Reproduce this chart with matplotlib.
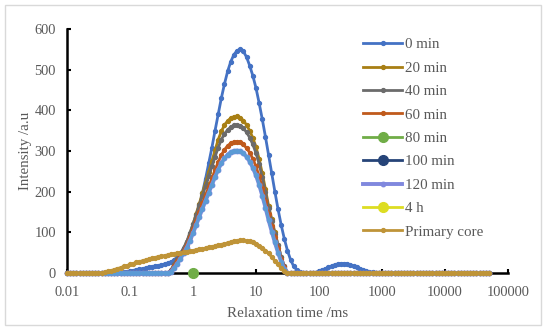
import matplotlib
matplotlib.use("Agg")
import matplotlib.pyplot as plt
from matplotlib.patches import Rectangle

plt.rcParams['font.family'] = ['Liberation Serif', 'DejaVu Serif']

# relaxation times (ms), 20 points per decade, 0.01 .. 50000
t2 = [0.01, 0.01122, 0.01259, 0.01413, 0.01585, 0.01778, 0.01995, 0.02239, 0.02512, 0.02818,
      0.03162, 0.03548, 0.03981, 0.04467, 0.05012, 0.05623, 0.0631, 0.07079, 0.07943, 0.08913,
      0.1, 0.1122, 0.1259, 0.1413, 0.1585, 0.1778, 0.1995, 0.2239, 0.2512, 0.2818,
      0.3162, 0.3548, 0.3981, 0.4467, 0.5012, 0.5623, 0.631, 0.7079, 0.7943, 0.8913,
      1.0, 1.122, 1.259, 1.413, 1.585, 1.778, 1.995, 2.239, 2.512, 2.818,
      3.162, 3.548, 3.981, 4.467, 5.012, 5.623, 6.31, 7.079, 7.943, 8.913,
      10.0, 11.22, 12.59, 14.13, 15.85, 17.78, 19.95, 22.39, 25.12, 28.18,
      31.62, 35.48, 39.81, 44.67, 50.12, 56.23, 63.1, 70.79, 79.43, 89.13,
      100, 112.2, 125.9, 141.3, 158.5, 177.8, 199.5, 223.9, 251.2, 281.8,
      316.2, 354.8, 398.1, 446.7, 501.2, 562.3, 631, 707.9, 794.3, 891.3,
      1000, 1122, 1259, 1413, 1585, 1778, 1995, 2239, 2512, 2818,
      3162, 3548, 3981, 4467, 5012, 5623, 6310, 7079, 7943, 8913,
      10000, 11220, 12589, 14125, 15849, 17783, 19953, 22387, 25119, 28184,
      31623, 35481, 39811, 44668, 50119]

min0 = [0, 0, 0, 0, 0, 0, 0, 0, 0, 0,
        0, 0, 0, 0, 0, 0, 0, 0, 2, 3,
        5, 6, 8, 9, 11, 12, 14, 15, 17, 18,
        20, 22, 24, 27, 32, 39, 48, 60, 75, 93,
        113, 137, 165, 197, 232, 270, 308, 350, 390, 430,
        465, 496, 520, 537, 547, 550, 545, 531, 510, 485,
        455, 418, 378, 335, 290, 245, 200, 157, 118, 84,
        55, 32, 16, 7, 3, 1, 0, 0, 0, 1,
        4, 7, 10, 14, 17, 20, 22, 23, 23, 22,
        20, 17, 14, 10, 7, 5, 3, 2, 1, 0,
        0, 0, 0, 0, 0, 0, 0, 0, 0, 0,
        0, 0, 0, 0, 0, 0, 0, 0, 0, 0,
        0, 0, 0, 0, 0, 0, 0, 0, 0, 0,
        0, 0, 0, 0, 0]

min20 = [0, 0, 0, 0, 0, 0, 0, 0, 0, 0,
         0, 0, 0, 0, 0, 0, 0, 0, 0, 0,
         0, 0, 0, 0, 0, 0, 0, 0, 0, 0,
         0, 0, 0, 6, 20, 32, 45, 59, 75, 96,
         120, 145, 170, 196, 222, 248, 275, 302, 328, 348,
         364, 374, 381, 384, 385, 382, 375, 364, 350, 332,
         310, 280, 245, 206, 165, 132, 100, 70, 40, 16,
         0, 0, 0, 0, 0, 0, 0, 0, 0, 0,
         0, 0, 0, 0, 0, 0, 0, 0, 0, 0,
         0, 0, 0, 0, 0, 0, 0, 0, 0, 0,
         0, 0, 0, 0, 0, 0, 0, 0, 0, 0,
         0, 0, 0, 0, 0, 0, 0, 0, 0, 0,
         0, 0, 0, 0, 0, 0, 0, 0, 0, 0,
         0, 0, 0, 0, 0]

min40 = [0, 0, 0, 0, 0, 0, 0, 0, 0, 0,
         0, 0, 0, 0, 0, 0, 0, 0, 0, 0,
         0, 0, 0, 0, 0, 0, 0, 0, 0, 0,
         0, 0, 0, 7, 22, 34, 47, 61, 77, 98,
         120, 143, 167, 190, 214, 238, 262, 286, 308, 328,
         342, 352, 359, 363, 364, 361, 356, 346, 333, 316,
         295, 268, 235, 198, 160, 128, 97, 68, 40, 16,
         0, 0, 0, 0, 0, 0, 0, 0, 0, 0,
         0, 0, 0, 0, 0, 0, 0, 0, 0, 0,
         0, 0, 0, 0, 0, 0, 0, 0, 0, 0,
         0, 0, 0, 0, 0, 0, 0, 0, 0, 0,
         0, 0, 0, 0, 0, 0, 0, 0, 0, 0,
         0, 0, 0, 0, 0, 0, 0, 0, 0, 0,
         0, 0, 0, 0, 0]

min60 = [0, 0, 0, 0, 0, 0, 0, 0, 0, 0,
         0, 0, 0, 0, 0, 0, 0, 0, 0, 0,
         0, 0, 0, 0, 0, 0, 0, 0, 0, 0,
         0, 0, 0, 5, 18, 30, 42, 55, 70, 88,
         108, 129, 150, 171, 192, 212, 233, 253, 273, 290,
         303, 313, 319, 322, 323, 321, 316, 307, 296, 281,
         262, 238, 210, 178, 145, 116, 88, 61, 35, 14,
         0, 0, 0, 0, 0, 0, 0, 0, 0, 0,
         0, 0, 0, 0, 0, 0, 0, 0, 0, 0,
         0, 0, 0, 0, 0, 0, 0, 0, 0, 0,
         0, 0, 0, 0, 0, 0, 0, 0, 0, 0,
         0, 0, 0, 0, 0, 0, 0, 0, 0, 0,
         0, 0, 0, 0, 0, 0, 0, 0, 0, 0,
         0, 0, 0, 0, 0]

min120 = [0, 0, 0, 0, 0, 0, 0, 0, 0, 0,
          0, 0, 0, 0, 0, 0, 0, 0, 0, 0,
          0, 0, 0, 0, 0, 0, 0, 0, 0, 0,
          0, 0, 0, 3, 12, 23, 35, 48, 62, 79,
          98, 118, 138, 158, 178, 197, 217, 236, 254, 270,
          282, 291, 297, 300, 301, 299, 294, 286, 274, 259,
          240, 217, 190, 161, 130, 102, 75, 50, 28, 10,
          0, 0, 0, 0, 0, 0, 0, 0, 0, 0,
          0, 0, 0, 0, 0, 0, 0, 0, 0, 0,
          0, 0, 0, 0, 0, 0, 0, 0, 0, 0,
          0, 0, 0, 0, 0, 0, 0, 0, 0, 0,
          0, 0, 0, 0, 0, 0, 0, 0, 0, 0,
          0, 0, 0, 0, 0, 0, 0, 0, 0, 0,
          0, 0, 0, 0, 0]

core = [0, 0, 0, 0, 0, 0, 0, 0, 0, 0,
        0, 1, 2, 4, 6, 8, 11, 13, 16, 18,
        21, 23, 26, 28, 30, 32, 34, 36, 38, 40,
        41, 43, 44, 46, 47, 49, 50, 51, 52, 54,
        55, 57, 58, 60, 61, 63, 64, 66, 68, 70,
        72, 74, 76, 78, 79, 80, 80, 79, 78, 75,
        72, 67, 62, 55, 48, 39, 30, 21, 12, 5,
        0, 0, 0, 0, 0, 0, 0, 0, 0, 0,
        0, 0, 0, 0, 0, 0, 0, 0, 0, 0,
        0, 0, 0, 0, 0, 0, 0, 0, 0, 0,
        0, 0, 0, 0, 0, 0, 0, 0, 0, 0,
        0, 0, 0, 0, 0, 0, 0, 0, 0, 0,
        0, 0, 0, 0, 0, 0, 0, 0, 0, 0,
        0, 0, 0, 0, 0]

# 80 min only shows as one point, 100 min and 4 h are hidden in the figure
t2_80 = [1]
min80 = [0]

xticks = [0.01, 0.1, 1, 10, 100, 1000, 10000, 100000]
xlabels = ['0.01', '0.1', '1', '10', '100', '1000', '10000', '100000']
yticks = [0, 100, 200, 300, 400, 500, 600]

grey = '#595959'

fig = plt.figure(figsize=(5.5, 3.33), dpi=100)
ax = fig.add_axes([0.1218, 0.1802, 0.8018, 0.7327])

kw = dict(lw=2, marker='o', ms=2.8, clip_on=False)
ax.plot(t2, min0, color='#4472C4', label='0 min', **kw)
ax.plot(t2, min20, color='#A87F14', label='20 min', **kw)
ax.plot(t2, min40, color='#6B6B6B', label='40 min', **kw)
ax.plot(t2, min60, color='#C05A1C', label='60 min', **kw)
ax.plot(t2_80, min80, color='#70AD47', lw=2, marker='o', ms=7, clip_on=False, label='80 min')
ax.plot([], [], color='#264478', lw=2, marker='o', ms=7, label='100 min')
ax.plot(t2, min120, color='#8088DE', lw=2.8, marker='o', ms=3.2, clip_on=False, label='120 min')
ax.plot(t2, min120, color='#5B9BD5', lw=1.8, marker='o', ms=2.5, clip_on=False)
ax.plot([], [], color='#DDDD22', lw=2, marker='o', ms=7, label='4 h')
ax.plot(t2, core, color='#BF9438', label='Primary core', **kw)

ax.set_xscale('log')
ax.set_xlim(0.01, 100000)
ax.set_ylim(0, 600)
ax.set_xticks(xticks)
ax.set_xticklabels(xlabels)
ax.minorticks_off()
ax.set_yticks(yticks)

for s in ['top', 'right']:
    ax.spines[s].set_visible(False)
for s in ['left', 'bottom']:
    ax.spines[s].set_linewidth(1.8)
    ax.spines[s].set_color('black')
    ax.spines[s].set_zorder(0)

ax.tick_params(direction='in', length=3, width=1.5, color='black',
               labelcolor=grey, labelsize=10.4)
ax.tick_params(axis='x', pad=9.5)
ax.tick_params(axis='y', pad=8)

ax.set_xlabel('Relaxation time /ms', color=grey, fontsize=10.8)
ax.set_ylabel('Intensity /a.u', color=grey, fontsize=10.8)
ax.xaxis.set_label_coords(0.5, -0.14)
ax.yaxis.set_label_coords(-0.08, 0.5)

handles, labels = ax.get_legend_handles_labels()
leg = fig.legend(handles, labels, loc='upper left', bbox_to_anchor=(0.66, 0.886),
                 frameon=False, fontsize=10.8, handlelength=2.6, handletextpad=0.2,
                 labelspacing=0.66, borderpad=0, borderaxespad=0)
for t in leg.get_texts():
    t.set_color(grey)

fig.patches.append(Rectangle((0.009, 0.024), 0.9745, 0.961, transform=fig.transFigure,
                             fill=False, edgecolor='#D9D9D9', lw=1))

fig.savefig('out.png', dpi=100)
